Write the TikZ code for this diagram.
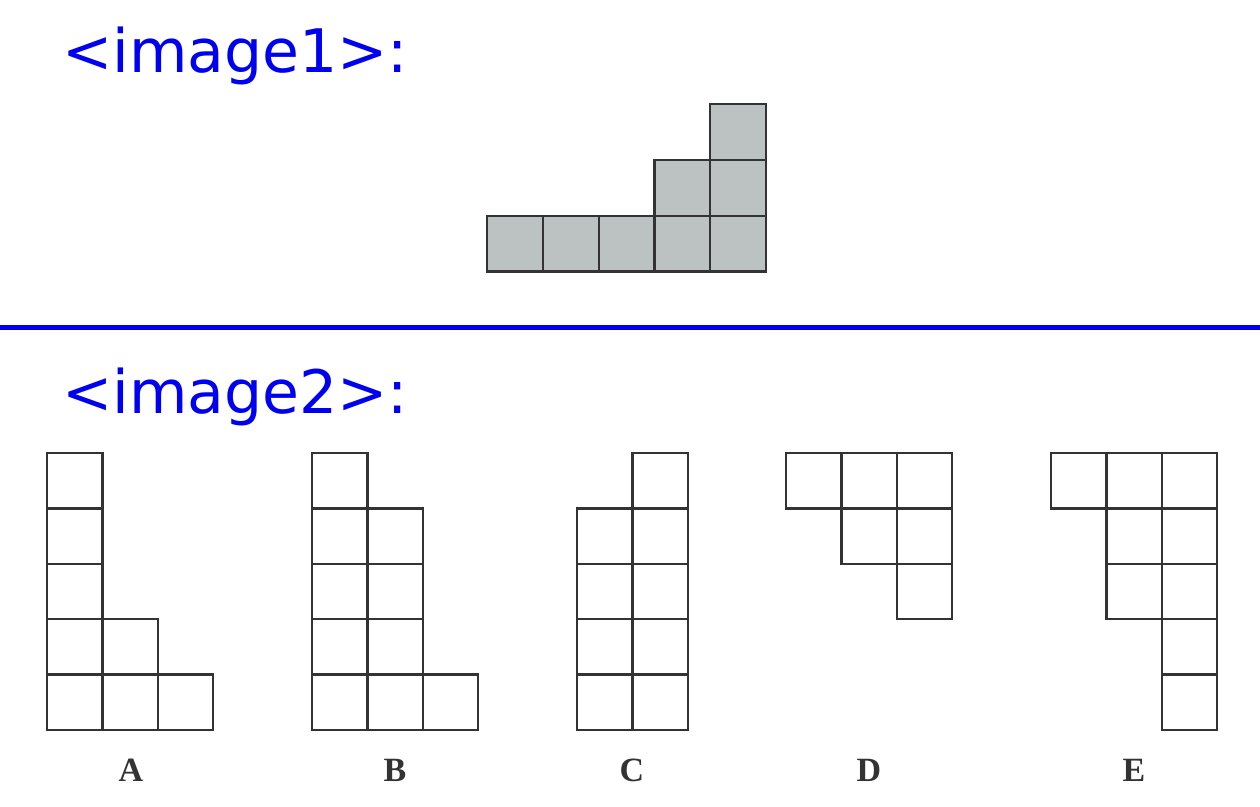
\documentclass[tikz,border=0pt]{standalone}
\usepackage{fontspec}
\setmainfont{DejaVu Sans}
\newfontfamily\labelfont{Liberation Serif}
\definecolor{hdrblue}{HTML}{0000F0}
\definecolor{edge}{HTML}{333333}
\definecolor{shade}{HTML}{BCC2C1}
\tikzset{
  hdr/.style={anchor=base west, inner sep=0pt, text=hdrblue, font=\fontsize{60}{60}\selectfont},
  cellA/.style={draw=edge, line width=2.2pt, fill=shade},
  cellB/.style={draw=edge, line width=2.4pt},
  optlabel/.style={anchor=base, inner sep=0pt, text=edge, font=\labelfont\bfseries\fontsize{34}{34}\selectfont},
}
\begin{document}
\begin{tikzpicture}[x=1pt,y=-1pt]
\useasboundingbox (0,0) rectangle (1260,806);
% headers
\node[hdr] (h1) at (62,72) {<image1>:};
\node[hdr] (h2) at (62,413) {<image2>:};
% separator
\draw[hdrblue, line width=5pt] (0,327) -- (1260,327);
% top figure
\def\s{55.8}
\foreach \c/\r in {4/0,3/1,4/1,0/2,1/2,2/2,3/2,4/2}
  \draw[cellA] ({487+\c*\s},{104+\r*\s}) rectangle +(\s,\s);
% options
\def\t{55.4}
\foreach \c/\r in {0/0,0/1,0/2,0/3,0/4,1/3,1/4,2/4}
  \draw[cellB] ({47+\c*\t},{453+\r*\t}) rectangle +(\t,\t);
\foreach \c/\r in {0/0,0/1,0/2,0/3,0/4,1/1,1/2,1/3,1/4,2/4}
  \draw[cellB] ({312+\c*\t},{453+\r*\t}) rectangle +(\t,\t);
\foreach \c/\r in {0/1,0/2,0/3,0/4,1/0,1/1,1/2,1/3,1/4}
  \draw[cellB] ({577+\c*\t},{453+\r*\t}) rectangle +(\t,\t);
\foreach \c/\r in {0/0,1/0,2/0,1/1,2/1,2/2}
  \draw[cellB] ({786+\c*\t},{453+\r*\t}) rectangle +(\t,\t);
\foreach \c/\r in {0/0,1/0,2/0,1/1,2/1,1/2,2/2,2/3,2/4}
  \draw[cellB] ({1051+\c*\t},{453+\r*\t}) rectangle +(\t,\t);
% labels
\node[optlabel] (la) at (131,781) {A};
\node[optlabel] (lb) at (395,781) {B};
\node[optlabel] (lc) at (632,781) {C};
\node[optlabel] (ld) at (869,781) {D};
\node[optlabel] (le) at (1134,781) {E};
\end{tikzpicture}
\end{document}
